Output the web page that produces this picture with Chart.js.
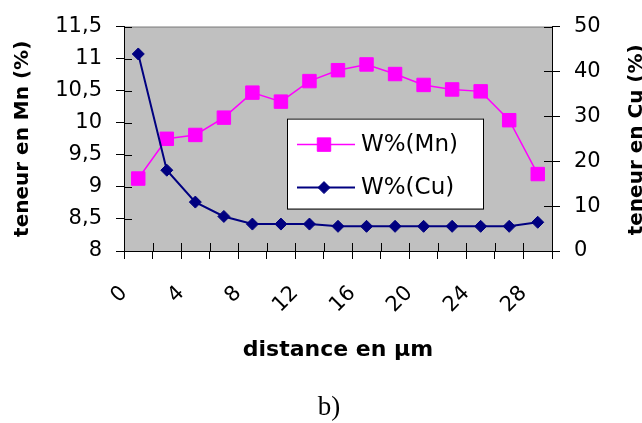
<!DOCTYPE html>
<html>
<head>
<meta charset="utf-8">
<script src="https://cdn.jsdelivr.net/npm/chart.js@4"></script>
<style>
  html, body { margin: 0; padding: 0; background: #fff; overflow: hidden; }
  #wrap { position: relative; width: 642px; height: 423px; }
</style>
</head>
<body>
<div id="wrap"><canvas id="chart"></canvas></div>
<script>
// distance (µm) of each measurement point
const distances = [1, 3, 5, 7, 9, 11, 13, 15, 17, 19, 21, 23, 25, 27, 29];
// W%(Mn), left axis
const mnValues = [9.13, 9.75, 9.81, 10.08, 10.47, 10.33, 10.65, 10.82, 10.91, 10.76, 10.59, 10.52, 10.49, 10.04, 9.2];
// W%(Cu), right axis
const cuValues = [43.9, 18.0, 10.9, 7.7, 6.0, 6.0, 6.0, 5.5, 5.5, 5.5, 5.5, 5.5, 5.5, 5.5, 6.4];
// x labels shown on the axis
const xLabels = [0, 4, 8, 12, 16, 20, 24, 28];

const FONT = 'DejaVu Sans';
Chart.defaults.font.family = FONT;
Chart.defaults.color = '#000';

function toPoints(ys) {
  return distances.map((d, i) => ({ x: d, y: ys[i] }));
}

// grey plot area + top border
const plotBg = {
  id: 'plotBg',
  beforeDraw(chart) {
    const { ctx, chartArea: a } = chart;
    ctx.save();
    ctx.fillStyle = '#c0c0c0';
    ctx.fillRect(a.left, a.top, a.right - a.left, a.bottom - a.top);
    ctx.strokeStyle = '#808080';
    ctx.lineWidth = 1;
    ctx.beginPath();
    ctx.moveTo(a.left, a.top + 0.5);
    ctx.lineTo(a.right, a.top + 0.5);
    ctx.stroke();
    ctx.restore();
  },
  // inner half of the tick marks
  beforeDatasetsDraw(chart) {
    const { ctx, chartArea: a, scales } = chart;
    const len = 8;
    ctx.save();
    ctx.strokeStyle = '#000';
    ctx.lineWidth = 1;
    ctx.beginPath();
    scales.x.ticks.forEach(t => {
      const px = Math.round(scales.x.getPixelForValue(t.value)) + 0.5;
      ctx.moveTo(px, a.bottom);
      ctx.lineTo(px, a.bottom - len);
    });
    scales.y.ticks.forEach(t => {
      const py = Math.round(scales.y.getPixelForValue(t.value)) + 0.5;
      ctx.moveTo(a.left, py);
      ctx.lineTo(a.left + len, py);
    });
    scales.y1.ticks.forEach(t => {
      const py = Math.round(scales.y1.getPixelForValue(t.value)) + 0.5;
      ctx.moveTo(a.right, py);
      ctx.lineTo(a.right - len, py);
    });
    ctx.stroke();
    ctx.restore();
  }
};

function drawMarker(ctx, style, r, x, y, color) {
  ctx.fillStyle = color;
  ctx.strokeStyle = color;
  ctx.beginPath();
  if (style === 'rect') {
    const s = Math.SQRT1_2 * r;
    ctx.rect(x - s, y - s, 2 * s, 2 * s);
  } else {
    ctx.moveTo(x, y - r);
    ctx.lineTo(x + r, y);
    ctx.lineTo(x, y + r);
    ctx.lineTo(x - r, y);
    ctx.closePath();
  }
  ctx.fill();
  ctx.stroke();
}

// boxed legend inside the plot, right axis title, caption
const extras = {
  id: 'extras',
  afterDraw(chart) {
    const { ctx, chartArea: a } = chart;
    ctx.save();
    const bx = a.left + 163, by = a.top + 92, bw = 196, bh = 90;
    ctx.fillStyle = '#fff';
    ctx.fillRect(bx, by, bw, bh);
    ctx.strokeStyle = '#000';
    ctx.lineWidth = 1;
    ctx.strokeRect(bx + 0.5, by + 0.5, bw, bh);

    const rows = [26, 69];
    chart.data.datasets.forEach((ds, i) => {
      const y = by + rows[i];
      ctx.strokeStyle = ds.borderColor;
      ctx.lineWidth = ds.borderWidth;
      ctx.beginPath();
      ctx.moveTo(bx + 10, y);
      ctx.lineTo(bx + 68, y);
      ctx.stroke();
      ctx.lineWidth = 1;
      drawMarker(ctx, ds.pointStyle, ds.pointRadius, bx + 37, y, ds.pointBackgroundColor);
      ctx.fillStyle = '#000';
      ctx.font = '23px "' + FONT + '"';
      ctx.textAlign = 'left';
      ctx.textBaseline = 'middle';
      ctx.fillText(ds.label, bx + 74, y);
    });

    // right axis title, reads bottom to top
    ctx.save();
    ctx.translate(637, (a.top + a.bottom) / 2 + 1);
    ctx.rotate(-Math.PI / 2);
    ctx.font = 'bold 20px "' + FONT + '"';
    ctx.textAlign = 'center';
    ctx.textBaseline = 'middle';
    ctx.fillStyle = '#000';
    ctx.fillText('teneur en Cu (%)', 0, 0);
    ctx.restore();

    ctx.font = '27px "Liberation Serif"';
    ctx.textAlign = 'center';
    ctx.textBaseline = 'middle';
    ctx.fillStyle = '#000';
    ctx.fillText('b)', 329, 408);
    ctx.restore();
  }
};

new Chart(document.getElementById('chart'), {
  type: 'line',
  data: {
    datasets: [
      {
        label: 'W%(Mn)',
        data: toPoints(mnValues),
        yAxisID: 'y',
        order: 1,
        borderColor: '#ff00ff',
        borderWidth: 1.5,
        pointStyle: 'rect',
        pointRadius: 9.5,
        pointBorderWidth: 1,
        pointBackgroundColor: '#ff00ff',
        pointBorderColor: '#ff00ff',
        tension: 0
      },
      {
        label: 'W%(Cu)',
        data: toPoints(cuValues),
        yAxisID: 'y1',
        order: 0,
        borderColor: '#000080',
        borderWidth: 2,
        pointStyle: 'rectRot',
        pointRadius: 6,
        pointBorderWidth: 1,
        pointBackgroundColor: '#000080',
        pointBorderColor: '#000080',
        tension: 0
      }
    ]
  },
  options: {
    responsive: true,
    maintainAspectRatio: false,
    animation: false,
    layout: { padding: { top: 25, bottom: 60, left: 0, right: 0 } },
    plugins: {
      legend: { display: false },
      tooltip: { enabled: false }
    },
    scales: {
      x: {
        type: 'linear',
        min: 0,
        max: 30,
        afterFit: s => { s.height = 112; },
        border: { color: '#000', width: 1 },
        grid: { drawOnChartArea: false, drawTicks: true, tickLength: 8, color: '#000' },
        ticks: {
          stepSize: 2,
          autoSkip: false,
          minRotation: 45,
          maxRotation: 45,
          padding: 22,
          font: { size: 21 },
          callback: v => (xLabels.includes(v) ? String(v) : '')
        },
        title: {
          display: true,
          text: 'distance en µm',
          font: { size: 22, weight: 'bold' },
          padding: { top: 0, bottom: 0 }
        }
      },
      y: {
        position: 'left',
        min: 8,
        max: 11.5,
        afterFit: s => { s.width = 124; },
        border: { color: '#000', width: 1 },
        grid: { drawOnChartArea: false, drawTicks: true, tickLength: 8, color: '#000' },
        ticks: {
          stepSize: 0.5,
          padding: 14,
          font: { size: 21 },
          callback: v => String(v).replace('.', ',')
        },
        title: {
          display: true,
          text: 'teneur en Mn (%)',
          font: { size: 20, weight: 'bold' },
          padding: { top: 10.5, bottom: 0 }
        }
      },
      y1: {
        position: 'right',
        min: 0,
        max: 50,
        afterFit: s => { s.width = 90; },
        border: { color: '#000', width: 1 },
        grid: { drawOnChartArea: false, drawTicks: true, tickLength: 8, color: '#000' },
        ticks: {
          stepSize: 10,
          padding: 14,
          font: { size: 21 }
        }
      }
    }
  },
  plugins: [plotBg, extras]
});
</script>
</body>
</html>
